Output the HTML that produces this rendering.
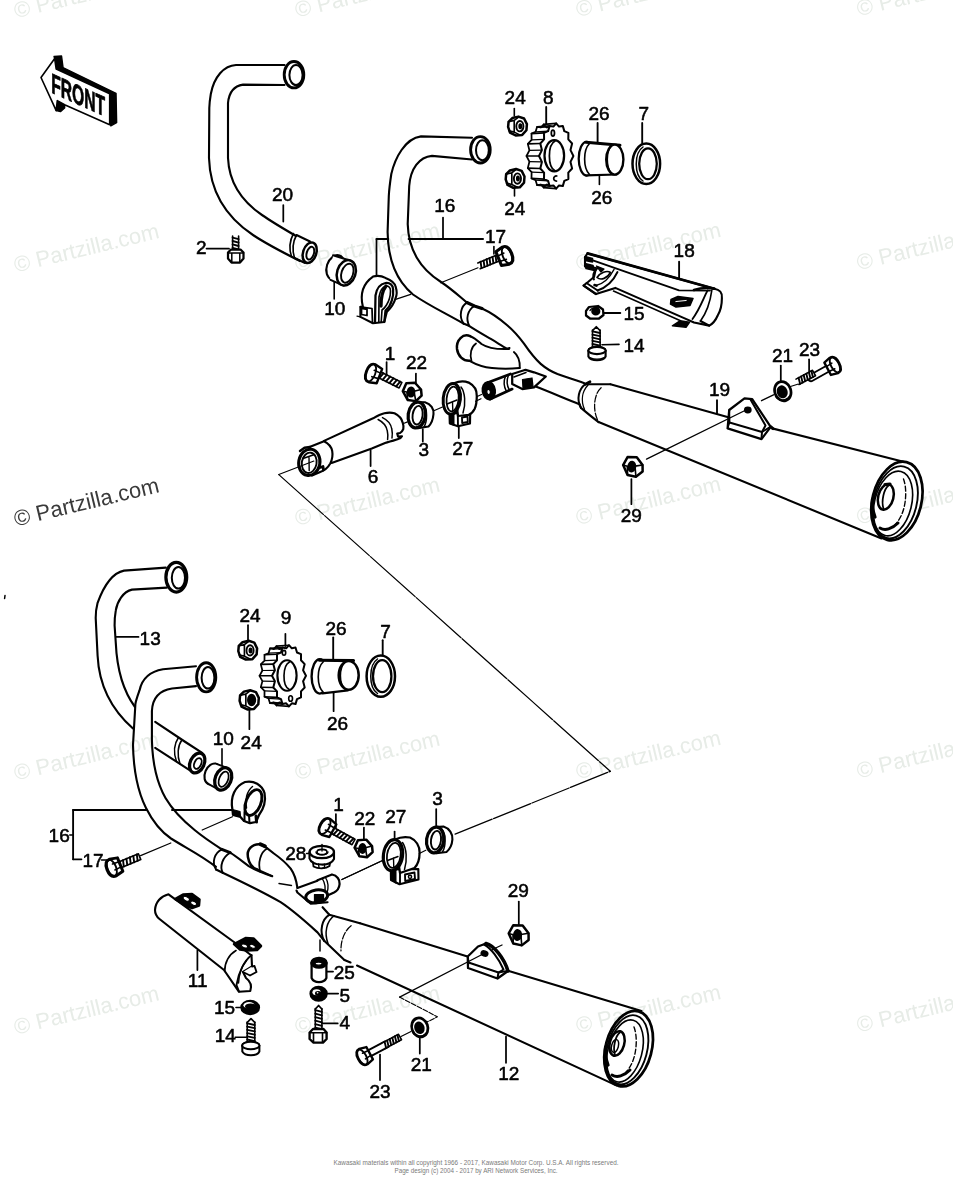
<!DOCTYPE html>
<html><head><meta charset="utf-8"><title>Exhaust diagram</title>
<style>
html,body{margin:0;padding:0;background:#fff;}
body{width:953px;height:1200px;overflow:hidden;font-family:"Liberation Sans",sans-serif;}
svg{display:block;}
.lb{font-family:"Liberation Sans",sans-serif;fill:#000;stroke:#000;stroke-width:0.55;}
.wm{font-family:"Liberation Sans",sans-serif;}
.ft{font-family:"Liberation Sans",sans-serif;fill:#777;stroke:none;}
</style></head><body>
<svg width="953" height="1200" viewBox="0 0 953 1200">
<rect x="0" y="0" width="953" height="1200" fill="#fff"/>
<g style="opacity:0.999">
<text x="16.1" y="18.3" transform="rotate(-13.5 16.1 18.3)" font-size="22" fill="#e7ece7" stroke="none" class="wm">© Partzilla.com</text>
<text x="297.0" y="17.6" transform="rotate(-13.5 297.0 17.6)" font-size="22" fill="#e7ece7" stroke="none" class="wm">© Partzilla.com</text>
<text x="577.9" y="16.9" transform="rotate(-13.5 577.9 16.9)" font-size="22" fill="#e7ece7" stroke="none" class="wm">© Partzilla.com</text>
<text x="858.8" y="16.2" transform="rotate(-13.5 858.8 16.2)" font-size="22" fill="#e7ece7" stroke="none" class="wm">© Partzilla.com</text>
<text x="16.1" y="272.4" transform="rotate(-13.5 16.1 272.4)" font-size="22" fill="#e7ece7" stroke="none" class="wm">© Partzilla.com</text>
<text x="297.0" y="271.7" transform="rotate(-13.5 297.0 271.7)" font-size="22" fill="#e7ece7" stroke="none" class="wm">© Partzilla.com</text>
<text x="577.9" y="271.0" transform="rotate(-13.5 577.9 271.0)" font-size="22" fill="#e7ece7" stroke="none" class="wm">© Partzilla.com</text>
<text x="858.8" y="270.3" transform="rotate(-13.5 858.8 270.3)" font-size="22" fill="#e7ece7" stroke="none" class="wm">© Partzilla.com</text>
<text x="16.1" y="526.5" transform="rotate(-13.5 16.1 526.5)" font-size="22" fill="#3a3a3a" stroke="none" class="wm">© Partzilla.com</text>
<text x="297.0" y="525.8" transform="rotate(-13.5 297.0 525.8)" font-size="22" fill="#e7ece7" stroke="none" class="wm">© Partzilla.com</text>
<text x="577.9" y="525.1" transform="rotate(-13.5 577.9 525.1)" font-size="22" fill="#e7ece7" stroke="none" class="wm">© Partzilla.com</text>
<text x="858.8" y="524.4" transform="rotate(-13.5 858.8 524.4)" font-size="22" fill="#e7ece7" stroke="none" class="wm">© Partzilla.com</text>
<text x="16.1" y="780.6" transform="rotate(-13.5 16.1 780.6)" font-size="22" fill="#e7ece7" stroke="none" class="wm">© Partzilla.com</text>
<text x="297.0" y="779.9" transform="rotate(-13.5 297.0 779.9)" font-size="22" fill="#e7ece7" stroke="none" class="wm">© Partzilla.com</text>
<text x="577.9" y="779.2" transform="rotate(-13.5 577.9 779.2)" font-size="22" fill="#e7ece7" stroke="none" class="wm">© Partzilla.com</text>
<text x="858.8" y="778.5" transform="rotate(-13.5 858.8 778.5)" font-size="22" fill="#e7ece7" stroke="none" class="wm">© Partzilla.com</text>
<text x="16.1" y="1034.7" transform="rotate(-13.5 16.1 1034.7)" font-size="22" fill="#e7ece7" stroke="none" class="wm">© Partzilla.com</text>
<text x="297.0" y="1034.0" transform="rotate(-13.5 297.0 1034.0)" font-size="22" fill="#e7ece7" stroke="none" class="wm">© Partzilla.com</text>
<text x="577.9" y="1033.3" transform="rotate(-13.5 577.9 1033.3)" font-size="22" fill="#e7ece7" stroke="none" class="wm">© Partzilla.com</text>
<text x="858.8" y="1032.6" transform="rotate(-13.5 858.8 1032.6)" font-size="22" fill="#e7ece7" stroke="none" class="wm">© Partzilla.com</text>
</g>
<g stroke="#000" fill="none" stroke-linecap="round" stroke-linejoin="round" style="opacity:0.999">
<g>
<path d="M54.7,58.6 L54.1,56.5 L61.5,56 L63,67.6 L116,93.3 L116.6,122.6 L110.8,125.8 L109.7,93.8 L56.2,69.1 Z" stroke-width="1.5" fill="#000" />
<path d="M57.3,100.6 L64.6,102.2 L64.6,108 L60.4,111.6 L56.2,110.6 Z" stroke-width="1.5" fill="#000" />
<path d="M41,77.5 L54.7,58.6 L56.2,69.1 L109.7,93.8 L109.7,124.7 L64.6,104.8 L57.3,100.6 L56.2,110.6 Z" stroke-width="1.62" fill="#fff" />
<text transform="matrix(0.56 0.25 0 1 51.2 92.4)" font-size="28" font-weight="bold" stroke="#000" stroke-width="0.8" fill="#000" style="font-family:'Liberation Sans',sans-serif" x="0" y="0">FRONT</text>
</g>
<path d="M284.5,65 L236,65 C224,65.5 214,77 210.8,94 C209.8,100 209.4,104 209.3,108 L209,158 C210,192 226,217 253,235 C268,245 284,253 300,261" stroke-width="2.12" fill="none" />
<path d="M284.5,85 L243,84.6 C234,86 229,92 228,103 L228,158 C229,182 240,200 262,215 C272,222 284,229 296,236" stroke-width="2.12" fill="none" />
<path d="M293.5,233.5 C290,240 289,249 291.5,256.5" stroke-width="1.62" fill="none" />
<path d="M296.5,235 C293,241.5 292.2,250.5 294.5,258" stroke-width="1.62" fill="none" />
<path d="M296.5,235 L310,241.5 M294.5,258 L305,263" stroke-width="2.0" fill="none" />
<ellipse cx="309.7" cy="252.7" rx="6.6" ry="10.6" stroke-width="2.5" fill="#fff" transform="rotate(18 309.7 252.7)"/>
<ellipse cx="310.3" cy="253.2" rx="3.6" ry="6.6" stroke-width="2.0" fill="none" transform="rotate(18 310.3 253.2)"/>
<ellipse cx="294" cy="74.7" rx="9.8" ry="13.2" stroke-width="2.88" fill="#fff"/>
<ellipse cx="296" cy="75.1" rx="6.6" ry="10" stroke-width="2.0" fill="none"/>
<path d="M232.6,236.0 L232.6,251.0 L238.6,251.0 L238.6,236.0" stroke-width="1.62" fill="#fff" />
<path d="M232.6,237.6 L238.6,239.2" stroke-width="1.88" fill="none" />
<path d="M232.6,241.0 L238.6,242.6" stroke-width="1.88" fill="none" />
<path d="M232.6,244.4 L238.6,246.0" stroke-width="1.88" fill="none" />
<path d="M232.6,247.8 L238.6,249.4" stroke-width="1.88" fill="none" />
<path d="M228,252.5 L231,249.5 L240.5,249.5 L243.5,252.5 L243.5,258.5 L240,262.5 L231.5,262.5 L228,258.5 Z" stroke-width="2.25" fill="#fff" />
<path d="M231.8,253.5 L231.8,262 M239.8,253.5 L239.8,262 M228,253 L243.5,253" stroke-width="1.5" fill="none" />
<text x="196" y="254.2" font-size="19" class="lb">2</text>
<line x1="206.5" y1="248.6" x2="229" y2="248.6" stroke-width="1.75"/>
<text x="324.2" y="314.6" font-size="19" class="lb">10</text>
<line x1="334.2" y1="282" x2="334.2" y2="299" stroke-width="1.62"/>
<text x="272" y="201.3" font-size="19" class="lb">20</text>
<line x1="283.3" y1="205" x2="283.3" y2="221.5" stroke-width="1.75"/>
<ellipse cx="335.5" cy="267.5" rx="8.8" ry="12.6" stroke-width="2.12" fill="#fff" transform="rotate(18 335.5 267.5)"/>
<path d="M333,255.3 L349,260.5 L343,285.5 L330,279.8 Z" stroke-width="0.0" fill="#fff" />
<path d="M333,255.3 L349,260.2 M330.5,279.8 L343.5,285.6" stroke-width="2.0" fill="none" />
<ellipse cx="346.3" cy="272.8" rx="9.2" ry="13" stroke-width="2.5" fill="#fff" transform="rotate(18 346.3 272.8)"/>
<ellipse cx="347.3" cy="273.2" rx="5.8" ry="9.8" stroke-width="1.88" fill="none" transform="rotate(18 347.3 273.2)"/>
<line x1="376.5" y1="239" x2="388.2" y2="239" stroke-width="2.0"/>
<line x1="408.6" y1="239" x2="483" y2="239" stroke-width="2.0"/>
<line x1="376.5" y1="239" x2="376.5" y2="276.5" stroke-width="1.75"/>
<line x1="443" y1="217.5" x2="443" y2="239" stroke-width="1.75"/>
<text x="434.2" y="212.3" font-size="19" class="lb">16</text>
<text x="485" y="243.2" font-size="19" class="lb">17</text>
<path d="M472,137.8 L421,136.4 C405,138.5 395,158 391.3,174 C389.8,184 389,192 388.8,196 L387.6,232 C388,262 398,282 413,294.5 C428,305 445,313 463.5,323.6" stroke-width="2.12" fill="none" />
<path d="M472,159.5 L432,155.9 C419,157 410.5,169 409.2,186 L407.7,224 C408.5,252 422,270 441,282 C451,288.5 459,296 467,302.6" stroke-width="2.12" fill="none" />
<ellipse cx="480.4" cy="149.8" rx="9.8" ry="13.2" stroke-width="2.88" fill="#fff"/>
<ellipse cx="482.4" cy="150.2" rx="6.4" ry="10" stroke-width="2.0" fill="none"/>
<path d="M466.9,302.6 C461,306 458.5,316 463.5,323.6" stroke-width="1.88" fill="none" />
<path d="M474.4,306 C467.5,310 465.5,319 469.4,326.1" stroke-width="1.88" fill="none" />
<path d="M466.9,302.6 L474.4,306 L482,308.5" stroke-width="3.25" fill="none" />
<path d="M482,308.5 C492,313 500,319 507.2,325.3 C514,331 519,337 524,343.7 C529,351 534,358 540.7,363.9 C546,368.5 551,371.5 557.5,374 C566,377 575,380 584.4,383.2" stroke-width="2.12" fill="none" />
<path d="M463.5,323.6 L469.4,326.1 C477,331 484,335 490.4,338.7 C497,342.5 502,346 507,348.7 L509.5,348" stroke-width="2.12" fill="none" />
<path d="M470.2,336.2 C463,333 456,340 457,349 C458,356 463,361 469.5,360.8" stroke-width="2.5" fill="none" />
<path d="M476,343.5 C471,347 469.5,354 471.5,361" stroke-width="1.75" fill="none" />
<path d="M470.2,336.2 C475,338 478,341 481.5,344 C489,349 498,349.5 509,349" stroke-width="2.0" fill="none" />
<path d="M469.5,360.8 C477,365 484,367.2 492,368 C501,369 510,369 519.5,368" stroke-width="2.12" fill="none" />
<path d="M513.9,352.1 C517.5,355 520,361 519.8,368" stroke-width="1.88" fill="none" />
<path d="M488.7,382.5 L510.5,374.2 L512.5,389 L490.5,399 Z" stroke-width="0.0" fill="#fff" />
<path d="M488.7,382.3 L510.5,374 M490.4,399.1 L512.2,389.1" stroke-width="2.75" fill="none" />
<ellipse cx="488.8" cy="390.7" rx="5.6" ry="8.2" stroke-width="3.25" fill="#000" transform="rotate(-8 488.8 390.7)"/>
<ellipse cx="488.6" cy="392" rx="1.8" ry="2.6" stroke-width="1.25" fill="#fff" transform="rotate(-8 488.6 392)"/>
<path d="M505.5,376 C503.5,381 504,387 506.5,391.5 M508.5,375 C506.5,380 507,386 509.5,390.3" stroke-width="1.5" fill="none" />
<path d="M512.2,374 L525.6,369.8 L534,372.3 L545.8,376.5 L534,387.4 L522.3,389.1 L512.2,384 Z" stroke-width="2.25" fill="#fff" />
<path d="M522.5,379.5 L532,378 L533,386.5 L523,388.5 Z" stroke-width="1.25" fill="#000" />
<path d="M514,377 L526,372.5" stroke-width="1.5" fill="none" />
<line x1="481.5" y1="394.5" x2="475" y2="397.5" stroke-width="1.25"/>
<path d="M535.7,386.5 C550,392 565,398.5 579.4,404.2" stroke-width="2.12" fill="none" />
<path d="M480.2,268.7 L499.2,260.9 L496.8,255.1 L477.8,262.9" stroke-width="1.62" fill="#fff" />
<path d="M481.5,268.1 L480.6,261.8" stroke-width="1.88" fill="none" />
<path d="M484.5,266.9 L483.6,260.6" stroke-width="1.88" fill="none" />
<path d="M487.5,265.7 L486.6,259.3" stroke-width="1.88" fill="none" />
<path d="M490.4,264.5 L489.5,258.1" stroke-width="1.88" fill="none" />
<path d="M493.4,263.2 L492.5,256.9" stroke-width="1.88" fill="none" />
<path d="M496.4,262.0 L495.5,255.7" stroke-width="1.88" fill="none" />
<g transform="translate(504.2 256.3) rotate(-22)">
<path d="M-6,-7.4 L1.7999999999999998,-9.25 Q8.100000000000001,-9.25 8.100000000000001,0 Q8.100000000000001,9.25 1.7999999999999998,9.25 L-6,7.4 Z" stroke-width="3.0" fill="#fff" />
<path d="M-6,-2.5900000000000003 L0.8999999999999999,-3.145 M-6,3.145 L0.8999999999999999,3.515" stroke-width="1.62" fill="none" />
<ellipse cx="3.0" cy="0" rx="4.32" ry="8.7" stroke-width="1.88" fill="none"/>
</g>
<line x1="493.9" y1="246.5" x2="493.9" y2="254" stroke-width="1.62"/>
<line x1="478" y1="267.8" x2="440.8" y2="282.8" stroke-width="1.12"/>
<path d="M362.9,306.8 C360.5,297 361,285 373,276.6 C378,275 382,276 385.5,277.9 C391,280 395,283 395.6,286.7 C397,291 397,295 395.6,298 C394,304 390.5,308.5 386.8,311.9 L384.3,322 L373,323.2 L360.4,316.9 L360.4,306.8 Z" stroke-width="2.12" fill="#fff" />
<path d="M375,322.5 L375.5,295.5 C376.5,289 380,284 385.5,283 C390,282.5 393,285 393.1,289.2 C393.5,293.5 393,297.5 391.8,300.5 C390.5,305 388,308.5 385.5,310.6 L384.3,322" stroke-width="2.25" fill="none" />
<path d="M378.8,322 L379,297 C380,291 382.5,287 386,286 C389,286 390.5,288 390.5,291 C390.5,296 389,301 386.5,305 C385,307.5 383.5,309 382,310 L381.2,322" stroke-width="1.62" fill="none" />
<path d="M386,286 C383,290 381,298 381,306" stroke-width="3.25" fill="none" />
<path d="M360.4,306.8 L372,308.5 L372.5,323 M361.5,308.5 L367,309.3 L367,315.5 L361.5,314.5 Z" stroke-width="1.75" fill="none" />
<line x1="357" y1="316.2" x2="360.4" y2="316.8" stroke-width="1.25"/>
<line x1="395.6" y1="299.3" x2="410.7" y2="294.3" stroke-width="1.25"/>
<text x="504.6" y="104.2" font-size="19" class="lb">24</text>
<line x1="514.3" y1="108.5" x2="514.3" y2="116" stroke-width="1.62"/>
<g transform="translate(517.5 126) scale(9.4)">
<path d="M-0.55,-0.85 L0.1,-1 L0.7,-0.8 L1,-0.2 L0.95,0.45 L0.5,0.95 L-0.2,1 L-0.8,0.7 L-1,0.1 L-0.95,-0.45 Z" stroke-width="0.266" fill="#fff"/>
<path d="M-0.95,-0.45 L-0.35,-0.6 L0.15,-0.98 M-0.9,0.5 L-0.35,0.65 L0.3,0.97 M-0.35,-0.6 L-0.35,0.65" stroke-width="0.173" fill="none"/>
<ellipse cx="0.25" cy="0.02" rx="0.38" ry="0.55" stroke-width="0.199" fill="none"/>
<ellipse cx="0.3" cy="0.02" rx="0.13" ry="0.24" stroke-width="0.16" fill="#000"/>
</g>
<g transform="translate(515.1 178.4) scale(9.4)">
<path d="M-0.55,-0.85 L0.1,-1 L0.7,-0.8 L1,-0.2 L0.95,0.45 L0.5,0.95 L-0.2,1 L-0.8,0.7 L-1,0.1 L-0.95,-0.45 Z" stroke-width="0.266" fill="#fff"/>
<path d="M-0.95,-0.45 L-0.35,-0.6 L0.15,-0.98 M-0.9,0.5 L-0.35,0.65 L0.3,0.97 M-0.35,-0.6 L-0.35,0.65" stroke-width="0.173" fill="none"/>
<ellipse cx="0.25" cy="0.02" rx="0.38" ry="0.55" stroke-width="0.199" fill="none"/>
<ellipse cx="0.3" cy="0.02" rx="0.13" ry="0.24" stroke-width="0.16" fill="#000"/>
</g>
<line x1="514.5" y1="187" x2="514.5" y2="196" stroke-width="1.62"/>
<text x="504.2" y="215" font-size="19" class="lb">24</text>
<text x="543" y="104.2" font-size="19" class="lb">8</text>
<line x1="546.2" y1="107" x2="546.2" y2="124" stroke-width="1.88"/>
<path d="M560.9,156.0 L558.0,161.7 L559.6,168.1 L555.8,172.2 L555.9,178.4 L551.8,180.2 L550.3,185.2 L546.5,184.5 L543.7,187.6 L540.9,184.5 L537.1,185.2 L535.6,180.2 L531.5,178.4 L531.6,172.2 L527.8,168.1 L529.4,161.7 L526.5,156.0 L529.4,150.3 L527.8,143.9 L531.6,139.8 L531.5,133.6 L535.6,131.8 L537.1,126.8 L540.9,127.5 L543.7,124.4 L546.5,127.5 L550.3,126.8 L551.8,131.8 L555.9,133.6 L555.8,139.8 L559.6,143.9 L558.0,150.3 Z" stroke-width="1.75" fill="#fff" />
<line x1="543.7" y1="187.6" x2="556.2" y2="188.6" stroke-width="1.62"/>
<line x1="540.9" y1="184.5" x2="553.4" y2="185.4" stroke-width="1.25"/>
<line x1="537.1" y1="185.2" x2="549.6" y2="186.1" stroke-width="1.62"/>
<line x1="535.6" y1="180.2" x2="548.1" y2="180.9" stroke-width="1.25"/>
<line x1="531.5" y1="178.4" x2="544.0" y2="179.1" stroke-width="1.62"/>
<line x1="531.6" y1="172.2" x2="544.1" y2="172.7" stroke-width="1.25"/>
<line x1="527.8" y1="168.1" x2="540.3" y2="168.5" stroke-width="1.62"/>
<line x1="529.4" y1="161.7" x2="541.9" y2="161.9" stroke-width="1.25"/>
<line x1="526.5" y1="156.0" x2="539.0" y2="156.0" stroke-width="1.62"/>
<line x1="529.4" y1="150.3" x2="541.9" y2="150.1" stroke-width="1.25"/>
<line x1="527.8" y1="143.9" x2="540.3" y2="143.5" stroke-width="1.62"/>
<line x1="531.6" y1="139.8" x2="544.1" y2="139.3" stroke-width="1.25"/>
<line x1="531.5" y1="133.6" x2="544.0" y2="132.9" stroke-width="1.62"/>
<line x1="535.6" y1="131.8" x2="548.1" y2="131.1" stroke-width="1.25"/>
<line x1="537.1" y1="126.8" x2="549.6" y2="125.9" stroke-width="1.62"/>
<line x1="540.9" y1="127.5" x2="553.4" y2="126.6" stroke-width="1.25"/>
<line x1="543.7" y1="124.4" x2="556.2" y2="123.4" stroke-width="1.62"/>
<path d="M573.4,156.0 L570.5,161.9 L572.1,168.5 L568.3,172.7 L568.4,179.1 L564.3,180.9 L562.8,186.1 L559.0,185.4 L556.2,188.6 L553.4,185.4 L549.6,186.1 L548.1,180.9 L544.0,179.1 L544.1,172.7 L540.3,168.5 L541.9,161.9 L539.0,156.0 L541.9,150.1 L540.3,143.5 L544.1,139.3 L544.0,132.9 L548.1,131.1 L549.6,125.9 L553.4,126.6 L556.2,123.4 L559.0,126.6 L562.8,125.9 L564.3,131.1 L568.4,132.9 L568.3,139.3 L572.1,143.5 L570.5,150.1 Z" stroke-width="2.0" fill="#fff" />
<ellipse cx="554.3" cy="155.8" rx="9.8" ry="15.6" stroke-width="2.25" fill="none"/>
<path d="M555,141 C547.5,145 547.5,167 555,170.8" stroke-width="1.75" fill="none" />
<ellipse cx="552.9" cy="133.1" rx="1.6" ry="3.0" stroke-width="1.75" fill="none"/>
<path d="M556.8,176 C553,175.5 552.5,181 556.5,181" stroke-width="1.75" fill="none" />
<text x="588.4" y="119.7" font-size="19" class="lb">26</text>
<line x1="597.6" y1="123" x2="597.6" y2="143.5" stroke-width="1.88"/>
<ellipse cx="586.5" cy="158.7" rx="7.8" ry="16.8" stroke-width="2.25" fill="#fff"/>
<path d="M586,142 L620,145 L617,174.5 L586,175.5 Z" stroke-width="0.0" fill="#fff" />
<path d="M586,142.2 L620,145.2" stroke-width="3.0" fill="none" />
<path d="M586,175.4 L616.5,174.5" stroke-width="2.12" fill="none" />
<path d="M589.5,143.5 C583,150 583,168 589.5,174.5" stroke-width="1.62" fill="none" />
<ellipse cx="614.8" cy="159.6" rx="8.6" ry="15" stroke-width="2.38" fill="#fff"/>
<path d="M611,146.5 C606,152 606,167 611,172.5" stroke-width="1.62" fill="none" />
<line x1="599.4" y1="175.5" x2="599.4" y2="184.5" stroke-width="1.62"/>
<text x="591.2" y="204.4" font-size="19" class="lb">26</text>
<text x="638.4" y="119.7" font-size="19" class="lb">7</text>
<line x1="642.2" y1="123" x2="642.2" y2="143.5" stroke-width="1.88"/>
<ellipse cx="646.3" cy="163.8" rx="13.8" ry="20.2" stroke-width="2.5" fill="#fff"/>
<ellipse cx="648" cy="163.8" rx="8.8" ry="15.4" stroke-width="2.25" fill="none"/>
<path d="M643,147 C634,153 634,175 643,181" stroke-width="1.5" fill="none" />
<text x="673.6" y="256.9" font-size="19" class="lb">18</text>
<line x1="679.1" y1="261.8" x2="679.1" y2="285.3" stroke-width="1.88"/>
<path d="M587.6,253.4 L714.4,288.7 C719.5,289.5 722.5,293 721.9,298 C721.9,305 720.5,311 717.7,315.5 C715.5,320.5 712.5,324 709.3,325.6 L694,322.5 L684.1,318.1 L615.3,287.9 L596,294 L583.5,285.5 L588,282 L594,277 L596,268 L585,266.5 L585,257 Z" stroke-width="2.12" fill="#fff" />
<path d="M587.6,253.4 L714.4,288.7" stroke-width="2.75" fill="none" />
<path d="M585,257.6 L679,290.4 L710,290.6" stroke-width="1.88" fill="none" />
<path d="M613.5,291 L680.5,320.8" stroke-width="1.62" fill="none" />
<path d="M707.6,290.4 C703.5,298 700,309 692.5,319" stroke-width="1.88" fill="none" />
<path d="M711.8,290.4 C710.5,300 707,312 700.5,321" stroke-width="1.62" fill="none" />
<path d="M714.4,288.7 C708,287.5 700,288 694,290" stroke-width="2.5" fill="none" />
<path d="M671,299.5 L678,296.5 L693,298.5 L690,305.5 L676,307 L670.5,304 Z" stroke-width="1.5" fill="#000" />
<path d="M676,301.5 L686,300.5" stroke-width="1.25" fill="none" stroke="#fff"/>
<path d="M672.4,325.8 L680,320.8 L689.5,322.3 L686,327.2 Z" stroke-width="1.5" fill="#000" />
<path d="M700.5,321 L709.3,325.6" stroke-width="2.0" fill="none" />
<path d="M585,256.5 L592.5,258.5 L592.5,262 L585,260.5 Z" stroke-width="1.5" fill="#000" />
<path d="M585,263.5 L593,265.5 L594.5,270.5 L586,268.5 Z" stroke-width="1.5" fill="#000" />
<path d="M596.5,266 L604,269 L601,272 Z" stroke-width="1.25" fill="#000" />
<path d="M597.5,268 C593.5,272 592.5,276.5 594,279.5" stroke-width="1.88" fill="none" />
<path d="M617.5,272 C613,281.5 605,288 597.5,290.5" stroke-width="1.88" fill="none" />
<path d="M614,269.5 C609.5,278 603,284 596,285.5" stroke-width="1.5" fill="none" />
<path d="M597,277.5 C600,272.5 607,270 610.5,272.5 C607.5,278 601,281 597,277.5 Z" stroke-width="1.62" fill="none" />
<path d="M583.5,285.5 L596,294.2 M586.5,283 L598,290.8" stroke-width="1.88" fill="none" />
<path d="M594.5,285 L596.5,285.6" stroke-width="2.5" fill="none" />
<path d="M586,311 L589,307 L598,306 L603,309.5 L603.5,315 L599,318.5 L590,318.5 L586,315.5 Z" stroke-width="2.25" fill="#fff" />
<ellipse cx="595.8" cy="311.3" rx="3.6" ry="3.2" stroke-width="2.0" fill="#000"/>
<path d="M590,310.5 C591,308 596,307 598.5,308" stroke-width="1.38" fill="none" />
<line x1="603.5" y1="313" x2="620.3" y2="313" stroke-width="1.88"/>
<text x="623.4" y="319.8" font-size="19" class="lb">15</text>
<path d="M592.5,330.0 L592.5,347.0 L600.1,347.0 L600.1,330.0" stroke-width="1.62" fill="#fff" />
<path d="M592.5,331.4 L600.1,333.0" stroke-width="1.88" fill="none" />
<path d="M592.5,334.6 L600.1,336.2" stroke-width="1.88" fill="none" />
<path d="M592.5,337.7 L600.1,339.3" stroke-width="1.88" fill="none" />
<path d="M592.5,340.8 L600.1,342.4" stroke-width="1.88" fill="none" />
<path d="M592.5,344.0 L600.1,345.6" stroke-width="1.88" fill="none" />
<path d="M592.6,330.5 L596.3,326.8 L600,330.5" stroke-width="1.75" fill="none" />
<ellipse cx="597" cy="350.5" rx="8.6" ry="3.6" stroke-width="2.12" fill="#fff"/>
<path d="M588.4,351 L588.4,356.5 C591,361.5 603,361.5 605.6,356.5 L605.6,351" stroke-width="2.12" fill="#fff" />
<ellipse cx="597" cy="350.5" rx="8.6" ry="3.6" stroke-width="2.12" fill="#fff"/>
<path d="M590.5,357.8 C594,359.5 600,359.5 603.5,357.8" stroke-width="1.38" fill="none" />
<line x1="602" y1="344.8" x2="619" y2="344.4" stroke-width="1.62"/>
<text x="623.4" y="351.7" font-size="19" class="lb">14</text>
<text x="384.8" y="359.8" font-size="19" class="lb">1</text>
<line x1="386.6" y1="362" x2="386.6" y2="375" stroke-width="1.75"/>
<path d="M377.6,377.3 L399.1,388.0 L401.9,382.4 L380.4,371.7" stroke-width="1.62" fill="#fff" />
<path d="M379.3,378.1 L383.4,373.3" stroke-width="1.88" fill="none" />
<path d="M382.6,379.8 L386.8,374.9" stroke-width="1.88" fill="none" />
<path d="M386.0,381.4 L390.2,376.6" stroke-width="1.88" fill="none" />
<path d="M389.3,383.1 L393.5,378.3" stroke-width="1.88" fill="none" />
<path d="M392.7,384.8 L396.9,379.9" stroke-width="1.88" fill="none" />
<path d="M396.1,386.4 L400.2,381.6" stroke-width="1.88" fill="none" />
<g transform="translate(373.8 374) rotate(201)">
<path d="M-6,-7.6000000000000005 L1.7999999999999998,-9.5 Q8.100000000000001,-9.5 8.100000000000001,0 Q8.100000000000001,9.5 1.7999999999999998,9.5 L-6,7.6000000000000005 Z" stroke-width="2.38" fill="#fff" />
<path d="M-6,-2.66 L0.8999999999999999,-3.2300000000000004 M-6,3.2300000000000004 L0.8999999999999999,3.61" stroke-width="1.62" fill="none" />
<ellipse cx="3.0" cy="0" rx="4.32" ry="8.93" stroke-width="1.88" fill="none"/>
</g>
<text x="406" y="369" font-size="19" class="lb">22</text>
<line x1="415.9" y1="373.5" x2="415.9" y2="384" stroke-width="1.75"/>
<g transform="translate(412.2 392) rotate(-10)">
<path d="M-9.12,-2.4 L-4.32,-9.6 L4.32,-8.64 L9.12,-0.96 L8.64,5.28 L1.92,9.6 L-5.76,7.199999999999999 Z" stroke-width="2.5" fill="#fff" />
<path d="M-5.76,7.199999999999999 L-5.28,-0.96 L-9.12,-2.4 M-5.28,-0.96 L1.92,-0.48 L9.12,-0.96 M1.92,-0.48 L1.92,9.6" stroke-width="1.62" fill="none" />
<ellipse cx="-1.152" cy="-0.192" rx="3.2640000000000002" ry="4.608" stroke-width="2.0" fill="#000" transform="rotate(12 -1.152 -0.192)"/>
</g>
<path d="M416.5,402 L425,402.2 C431,404 434,409 433.5,414 C433,420 431,424 428.5,426.5 L418,428.2 Z" stroke-width="2.12" fill="#fff" />
<ellipse cx="416.8" cy="415" rx="8.6" ry="13" stroke-width="3.25" fill="#fff" transform="rotate(8 416.8 415)"/>
<ellipse cx="417.6" cy="415.2" rx="5" ry="9.4" stroke-width="1.88" fill="none" transform="rotate(8 417.6 415.2)"/>
<path d="M423.5,404.5 C427.5,409 427.5,421 424,426.8" stroke-width="1.5" fill="none" />
<line x1="422.8" y1="429" x2="422.8" y2="441.5" stroke-width="1.75"/>
<text x="418.6" y="456.2" font-size="19" class="lb">3</text>
<line x1="403.5" y1="423.5" x2="407.5" y2="421.8" stroke-width="1.25"/>
<line x1="434.4" y1="410.5" x2="442.5" y2="407" stroke-width="1.25"/>
<path d="M449.5,413.5 L449.8,423.5 L458,426.2 L470,423.5 L470.2,413 Z" stroke-width="2.12" fill="#fff" />
<path d="M454,383.3 C459,381 465,381 468.7,382.6 C474,385.5 477,390 476.8,396 C476.8,402 476,406 474.6,409 C473,412 471,414 468.7,414.9 L458,416 Z" stroke-width="2.25" fill="#fff" />
<ellipse cx="451.8" cy="398.8" rx="8.6" ry="15.4" stroke-width="3.0" fill="#fff" transform="rotate(6 451.8 398.8)"/>
<ellipse cx="452.6" cy="399" rx="6" ry="12.4" stroke-width="1.75" fill="none" transform="rotate(6 452.6 399)"/>
<path d="M447,404 L457,400 M452.5,401.8 L452.8,411" stroke-width="1.38" fill="none" />
<path d="M461,387 C465,392 466,404 463,413" stroke-width="1.5" fill="none" />
<path d="M453.5,414 L453.5,424.8 M457.8,415 L458,426.2 M462,417.5 L467.5,416.5 L467.8,422 L462.2,423 Z" stroke-width="1.88" fill="none" />
<path d="M449.8,414 L449.8,423.5 L453.5,424.8 L453.5,414.5 Z" stroke-width="1.25" fill="#000" />
<line x1="458.8" y1="426.5" x2="458.8" y2="438" stroke-width="1.75"/>
<text x="452.2" y="455.4" font-size="19" class="lb">27</text>
<line x1="475.6" y1="401.3" x2="481" y2="398.8" stroke-width="1.25"/>
<path d="M324,440.9 L373.1,418.3 C377,416 381,414 384.4,413.2 C388,412.4 391.5,412.4 394.5,413.2 C399,415.5 402,419 402.7,422.7 C403.5,425 403.6,427 403.3,429 C402.5,431 401.5,432.3 400,433 L397.2,433.6 L398,436.6 L402,436.2 C401,438 399.8,438.8 398.3,439 C394,440.5 390,441.6 385.7,442.8 L371.8,448.5 L331.6,463 Z" stroke-width="2.12" fill="#fff" />
<path d="M378.1,419.5 C383,422 386.5,426 387.3,431 C388,434 388,437 387.6,439.5" stroke-width="1.5" fill="none" />
<path d="M382.5,417.6 C387.5,420 391,424 391.8,429 C392.4,432 392.5,435 392,438" stroke-width="1.5" fill="none" />
<path d="M308.9,447.2 L324,441.2 C328.5,443.5 331.5,447 332.2,451 C333,455.5 332,460 330.3,463.5 C328,467.5 324.5,470.5 320.2,472 L312,475.6 Z" stroke-width="2.12" fill="#fff" />
<ellipse cx="309.3" cy="462.3" rx="10.6" ry="13.2" stroke-width="3.0" fill="#fff" transform="rotate(10 309.3 462.3)"/>
<ellipse cx="309.2" cy="462.8" rx="7.4" ry="10.2" stroke-width="1.88" fill="none" transform="rotate(10 309.2 462.8)"/>
<path d="M303,458.5 L314.5,454.5 M309,456.5 L309.2,470.5" stroke-width="1.38" fill="none" />
<path d="M318.5,468 L323,466.5 L323.5,470" stroke-width="2.75" fill="none" />
<path d="M300,451 L304.5,447.8 L310,447" stroke-width="2.5" fill="none" />
<line x1="370.6" y1="450.4" x2="370.6" y2="466" stroke-width="1.75"/>
<text x="367.8" y="483.4" font-size="19" class="lb">6</text>
<line x1="313.9" y1="461.1" x2="278.8" y2="474.6" stroke-width="1.12"/>
<path d="M278.8,474.6 L610.3,771.3" stroke-width="1.25" fill="none" stroke-dasharray="60 1.5"/>
<path d="M585.2,384.3 L610.4,384.3" stroke-width="2.12" fill="none" />
<path d="M585.2,384.3 C579,389 576,399 581,407.9" stroke-width="2.0" fill="none" />
<path d="M588,385 C582.5,391 580.5,400 584.5,409.5" stroke-width="1.38" fill="none" />
<path d="M601.1,387.7 C594,394 592,410 598.6,422.1" stroke-width="1.25" fill="none" stroke-dasharray="7 2"/>
<path d="M579.4,404.2 L581,407.9 C587,413 593,418 598.6,422.1" stroke-width="2.12" fill="none" />
<path d="M585.2,384.3 L590,381.8" stroke-width="2.75" fill="none" />
<path d="M610.4,384.3 L729.2,417.4" stroke-width="2.12" fill="none" />
<path d="M772.2,428.4 L906.4,462.5" stroke-width="2.12" fill="none" />
<path d="M598.6,422.1 L881.5,538.4" stroke-width="2.12" fill="none" />
<ellipse cx="896.9" cy="501" rx="24.5" ry="40" stroke-width="2.75" fill="#fff" transform="rotate(14 896.9 501)"/>
<ellipse cx="895.2" cy="502.3" rx="21.5" ry="36.8" stroke-width="1.88" fill="none" transform="rotate(14 895.2 502.3)"/>
<ellipse cx="893" cy="503.5" rx="18.5" ry="33" stroke-width="1.62" fill="none" transform="rotate(14 893 503.5)"/>
<path d="M903.5,479 C907,488 906.5,505 901,516 C899,520 897,523 895,525" stroke-width="1.38" fill="none" stroke-dasharray="5 2.5"/>
<path d="M880,528 C885,531 892,529 898,523" stroke-width="3.0" fill="none" />
<path d="M872.5,499 C872,506 873,512 875,517" stroke-width="3.25" fill="none" />
<ellipse cx="885.8" cy="497" rx="7.6" ry="13" stroke-width="2.5" fill="#fff" transform="rotate(14 885.8 497)"/>
<path d="M888.5,485.5 C884,489 881,501 883.5,508.5" stroke-width="1.75" fill="none" />
<path d="M885,484.5 L890,484.2" stroke-width="3.25" fill="none" />
<text x="709" y="396.2" font-size="19" class="lb">19</text>
<line x1="717" y1="400.3" x2="717" y2="413.8" stroke-width="1.88"/>
<path d="M729.2,410 L744.5,398.3 L752.2,399.2 L770.7,426.8 L761.5,439.1 L727.6,428.4 Z" stroke-width="2.25" fill="#fff" />
<path d="M729.2,410.5 L729.5,422.5 L762,432 L770,427" stroke-width="1.88" fill="none" />
<path d="M750.5,399.5 L765.5,425.5 L762,432 L761.5,438.5" stroke-width="2.0" fill="none" />
<path d="M729.5,422.5 L727.6,428.2" stroke-width="1.62" fill="none" />
<ellipse cx="747.8" cy="410" rx="3.0" ry="2.6" stroke-width="1.75" fill="#000"/>
<path d="M770.7,426.8 L773,428.6" stroke-width="3.0" fill="none" />
<line x1="646.5" y1="459.1" x2="746" y2="410" stroke-width="1.38"/>
<line x1="761.5" y1="400.7" x2="773.5" y2="394.8" stroke-width="1.38"/>
<line x1="790.5" y1="386.5" x2="800" y2="383.5" stroke-width="1.25"/>
<g transform="translate(633 466.8) rotate(-5)">
<path d="M-9.69,-2.55 L-4.59,-10.2 L4.59,-9.18 L9.69,-1.02 L9.18,5.61 L2.04,10.2 L-6.119999999999999,7.6499999999999995 Z" stroke-width="2.5" fill="#fff" />
<path d="M-6.119999999999999,7.6499999999999995 L-5.61,-1.02 L-9.69,-2.55 M-5.61,-1.02 L2.04,-0.51 L9.69,-1.02 M2.04,-0.51 L2.04,10.2" stroke-width="1.62" fill="none" />
<ellipse cx="-1.224" cy="-0.204" rx="3.468" ry="4.896" stroke-width="2.0" fill="#000" transform="rotate(12 -1.224 -0.204)"/>
</g>
<line x1="631.4" y1="479" x2="631.4" y2="504.2" stroke-width="1.75"/>
<text x="620.7" y="521.8" font-size="19" class="lb">29</text>
<text x="772" y="362.3" font-size="19" class="lb">21</text>
<line x1="780.8" y1="365.5" x2="780.8" y2="382.3" stroke-width="1.75"/>
<ellipse cx="782.8" cy="391.2" rx="8.0" ry="9.8" stroke-width="2.75" fill="#fff" transform="rotate(-20 782.8 391.2)"/>
<ellipse cx="782.2" cy="391.8" rx="4.4" ry="5.6" stroke-width="1.88" fill="#000" transform="rotate(-20 782.2 391.8)"/>
<path d="M775.5,396 C778,401 785,402 789.5,396.5" stroke-width="1.5" fill="none" />
<text x="799" y="356" font-size="19" class="lb">23</text>
<line x1="809.1" y1="359.3" x2="809.1" y2="370.5" stroke-width="1.75"/>
<path d="M811,378 L828,368.5" stroke-width="8.25" fill="none" stroke="#000"/>
<path d="M811,378 L828,368.5" stroke-width="4.5" fill="none" stroke="#fff"/>
<path d="M799.0,384.5 L815.5,375.7 L812.5,370.3 L796.0,379.1" stroke-width="1.62" fill="#fff" />
<path d="M800.1,383.9 L798.6,377.7" stroke-width="1.88" fill="none" />
<path d="M802.6,382.6 L801.1,376.4" stroke-width="1.88" fill="none" />
<path d="M805.2,381.2 L803.7,375.0" stroke-width="1.88" fill="none" />
<path d="M807.8,379.8 L806.3,373.6" stroke-width="1.88" fill="none" />
<path d="M810.4,378.4 L808.9,372.2" stroke-width="1.88" fill="none" />
<path d="M812.9,377.1 L811.4,370.9" stroke-width="1.88" fill="none" />
<g transform="translate(832.5 366.2) rotate(-28)">
<path d="M-5.5,-7.0 L1.65,-8.75 Q7.425000000000001,-8.75 7.425000000000001,0 Q7.425000000000001,8.75 1.65,8.75 L-5.5,7.0 Z" stroke-width="2.38" fill="#fff" />
<path d="M-5.5,-2.45 L0.825,-2.975 M-5.5,2.975 L0.825,3.325" stroke-width="1.62" fill="none" />
<ellipse cx="2.75" cy="0" rx="3.96" ry="8.22" stroke-width="1.88" fill="none"/>
</g>
<path d="M165.8,567.6 L124,570.6 C112,573 103,588 97.6,602.8 C96,609 95.6,614 95.7,618 L97.6,655.7 C99,685 112,710 133,728.5" stroke-width="2.12" fill="none" />
<path d="M166.8,587.6 L132,589.6 C123,591.5 117,602 115.8,610.4 C114.8,616 114.5,621 114.6,625.5 L115.8,643.1 C117,670 124,692 135,707" stroke-width="2.12" fill="none" />
<ellipse cx="176.3" cy="577.2" rx="10.4" ry="14.8" stroke-width="3.25" fill="#fff"/>
<ellipse cx="178.4" cy="577.8" rx="6.6" ry="10.8" stroke-width="2.0" fill="none"/>
<line x1="116.5" y1="636.9" x2="138.5" y2="636.9" stroke-width="1.75"/>
<text x="139.6" y="645.3" font-size="19" class="lb">13</text>
<path d="M155.2,721.8 L185.4,742 L202.2,752.9 M155.2,747.9 L188.8,769.7" stroke-width="2.12" fill="none" />
<path d="M178.5,737.5 C174,744 173.5,753 176.5,761.5 M182,739.8 C177.5,746 177,755.5 180,763.8" stroke-width="1.5" fill="none" />
<ellipse cx="197.2" cy="763" rx="7" ry="10.4" stroke-width="3.25" fill="#fff" transform="rotate(25 197.2 763)"/>
<ellipse cx="197.8" cy="763.5" rx="3.4" ry="5.6" stroke-width="1.88" fill="none" transform="rotate(25 197.8 763.5)"/>
<line x1="73.1" y1="810" x2="147" y2="810" stroke-width="2.0"/>
<line x1="172" y1="810" x2="233.5" y2="810" stroke-width="2.0"/>
<line x1="73.1" y1="810" x2="73.1" y2="859.3" stroke-width="1.88"/>
<line x1="73.1" y1="859.3" x2="81.5" y2="859.3" stroke-width="1.75"/>
<line x1="69.8" y1="835" x2="73.1" y2="835" stroke-width="1.62"/>
<text x="48.6" y="841.8" font-size="19" class="lb">16</text>
<text x="82.5" y="866.8" font-size="19" class="lb">17</text>
<line x1="101.5" y1="860" x2="107" y2="860" stroke-width="1.62"/>
<path d="M196,666.2 L163,669.3 C150,671.5 142,679 139.5,690.4 C137.5,696 136,700 135.4,704 L133,745 C133.5,770 137,790 146,808 C153,822 160,831 171,838.5 C186,848 201,855 216,866.9" stroke-width="2.12" fill="none" />
<path d="M196,686.1 L172,688.5 C159,690.5 152.5,699 151.9,711 L151.9,740 C152.5,765 157,783 165.5,798 C172,809 181,819 194.6,830 C203,837 212,843 221.8,849.3" stroke-width="2.12" fill="none" />
<ellipse cx="206.2" cy="677.3" rx="9.6" ry="14.6" stroke-width="2.88" fill="#fff"/>
<ellipse cx="208" cy="677.8" rx="6.4" ry="10.8" stroke-width="2.0" fill="none"/>
<path d="M221.8,849.3 C214.5,853 211.5,862 216,869.5" stroke-width="1.88" fill="none" />
<path d="M230.2,852.7 C222.5,857 219.5,866 222.7,872.8" stroke-width="1.88" fill="none" />
<path d="M221.8,849.3 L230.2,852.7" stroke-width="3.0" fill="none" />
<path d="M216,869.5 L222.7,872.8" stroke-width="2.12" fill="none" />
<path d="M230.2,852.7 C237,857 243,862 248.7,866.1 C256,870.5 264,873.5 272.2,876.2" stroke-width="2.12" fill="none" />
<path d="M222.7,872.8 C240,881 262,891.5 280.6,902.2 C294,911 306,922 317.5,932.4 L324.2,940.8" stroke-width="2.12" fill="none" />
<path d="M279,883.5 L291.5,885.5" stroke-width="1.38" fill="none" />
<path d="M260.4,844.3 C252,843.5 246.5,850 247.9,857 C249,863.5 252.5,868 257.1,869.5" stroke-width="2.5" fill="none" />
<path d="M267.2,848.5 C260.5,852 257.5,863 260.4,872" stroke-width="1.75" fill="none" />
<path d="M260.4,844.3 L265,846.2" stroke-width="3.75" fill="none" />
<path d="M260.4,844.3 C266,847 270,850 273.9,853.5 C281,858.5 286.5,863.5 290.7,868.6 C294.5,874 296.5,881 297.4,887.9" stroke-width="2.12" fill="none" />
<path d="M257.1,869.5 L272.2,876.2" stroke-width="2.0" fill="none" />
<path d="M297.4,887.9 L332.6,875.3" stroke-width="2.12" fill="none" />
<path d="M317.5,880.2 L332,874.5 C337,875.5 340,879.5 339.6,884 C339.3,888 337,891 334,892.5 L327.5,895.5" stroke-width="2.25" fill="#fff" />
<path d="M325.5,877.5 C328,881.5 328.5,888 327,893 M322.5,879 C325,883 325.5,889.5 324.5,894" stroke-width="1.38" fill="none" />
<path d="M296.5,890.5 L297.4,892.5 L310.8,903.8 L327.6,902.2" stroke-width="2.12" fill="none" />
<ellipse cx="316.7" cy="896.3" rx="11" ry="6.4" stroke-width="3.0" fill="#fff" transform="rotate(-8 316.7 896.3)"/>
<path d="M314.5,894.5 L323.5,894.5 L323.5,901.5 L314.5,901.5 Z" stroke-width="1.25" fill="#000" />
<path d="M322.6,907.2 L329.3,914.8" stroke-width="2.12" fill="none" />
<line x1="341.9" y1="879.5" x2="382" y2="860.8" stroke-width="1.25"/>
<text x="285.3" y="860.2" font-size="19" class="lb">28</text>
<line x1="306.5" y1="853.5" x2="309.5" y2="853.5" stroke-width="1.5"/>
<path d="M309.5,852 L309.5,858.5 C312,866 330,867 334,859 L334,852" stroke-width="2.12" fill="#fff" />
<path d="M313,862.5 L313.5,866.5 C318,869 326,869 329.5,866 L330,862.8" stroke-width="1.88" fill="none" />
<ellipse cx="321.8" cy="852" rx="12.2" ry="6.2" stroke-width="2.25" fill="#fff"/>
<ellipse cx="322" cy="852" rx="5" ry="2.6" stroke-width="1.62" fill="none"/>
<path d="M316,852 C316,855.5 328,855.8 328,852" stroke-width="1.38" fill="none" />
<line x1="322" y1="844.5" x2="322" y2="851" stroke-width="1.38"/>
<path d="M318.5,864 L319,867.5 M324.5,864.2 L324.5,868" stroke-width="1.38" fill="none" />
<path d="M232.4,809.5 C230,797 235,786 245,782 C254,780 262,785 264.5,793 C266,801 263.5,809 259,815 L256,822 L250,823.2 L244,821 L240.5,817 L233,815 Z" stroke-width="2.25" fill="#fff" />
<ellipse cx="253.4" cy="802.6" rx="7.4" ry="13.6" stroke-width="2.88" fill="#fff" transform="rotate(22 253.4 802.6)"/>
<path d="M246.5,808 C244.5,800 247,791 252.5,786.5" stroke-width="1.5" fill="none" />
<path d="M232.4,809.5 L240,811.5 L240.5,817 L233,815 Z" stroke-width="1.25" fill="#000" />
<path d="M244.5,812 L244.5,821 M249,815 L249.5,823" stroke-width="2.0" fill="none" />
<path d="M256,816 L256.5,822" stroke-width="3.0" fill="none" />
<line x1="202.2" y1="830" x2="232.4" y2="816.7" stroke-width="1.25"/>
<text x="212.8" y="744.5" font-size="19" class="lb">10</text>
<line x1="222" y1="748.7" x2="222" y2="765.5" stroke-width="1.62"/>
<ellipse cx="212.3" cy="773.9" rx="7.3" ry="10.8" stroke-width="2.12" fill="#fff" transform="rotate(22 212.3 773.9)"/>
<path d="M215.5,763.5 L226.5,767.5 L219.5,790 L208.5,784 Z" stroke-width="0.0" fill="#fff" />
<path d="M215.8,763.6 L226.5,767.6 M208.3,783.8 L219.3,790" stroke-width="2.0" fill="none" />
<ellipse cx="223.2" cy="778.9" rx="8" ry="11.6" stroke-width="3.25" fill="#fff" transform="rotate(22 223.2 778.9)"/>
<ellipse cx="223.6" cy="779.2" rx="4.4" ry="8" stroke-width="1.75" fill="none" transform="rotate(22 223.6 779.2)"/>
<path d="M122.2,867.2 L140.8,859.6 L138.4,853.8 L119.8,861.4" stroke-width="1.62" fill="#fff" />
<path d="M123.8,866.5 L123.0,860.1" stroke-width="1.88" fill="none" />
<path d="M127.3,865.1 L126.4,858.7" stroke-width="1.88" fill="none" />
<path d="M130.7,863.7 L129.9,857.3" stroke-width="1.88" fill="none" />
<path d="M134.2,862.3 L133.3,855.9" stroke-width="1.88" fill="none" />
<path d="M137.6,860.9 L136.8,854.5" stroke-width="1.88" fill="none" />
<g transform="translate(114.6 866.8) rotate(158)">
<path d="M-6,-7.2 L1.7999999999999998,-9.0 Q8.100000000000001,-9.0 8.100000000000001,0 Q8.100000000000001,9.0 1.7999999999999998,9.0 L-6,7.2 Z" stroke-width="3.0" fill="#fff" />
<path d="M-6,-2.5200000000000005 L0.8999999999999999,-3.06 M-6,3.06 L0.8999999999999999,3.42" stroke-width="1.62" fill="none" />
<ellipse cx="3.0" cy="0" rx="4.32" ry="8.46" stroke-width="1.88" fill="none"/>
</g>
<line x1="140.6" y1="855.6" x2="170.8" y2="843" stroke-width="1.25"/>
<text x="239.4" y="621.5" font-size="19" class="lb">24</text>
<line x1="248" y1="625.2" x2="248" y2="640.5" stroke-width="1.75"/>
<g transform="translate(247.7 650.2) scale(9.4)">
<path d="M-0.55,-0.85 L0.1,-1 L0.7,-0.8 L1,-0.2 L0.95,0.45 L0.5,0.95 L-0.2,1 L-0.8,0.7 L-1,0.1 L-0.95,-0.45 Z" stroke-width="0.266" fill="#fff"/>
<path d="M-0.95,-0.45 L-0.35,-0.6 L0.15,-0.98 M-0.9,0.5 L-0.35,0.65 L0.3,0.97 M-0.35,-0.6 L-0.35,0.65" stroke-width="0.173" fill="none"/>
<ellipse cx="0.25" cy="0.02" rx="0.38" ry="0.55" stroke-width="0.199" fill="none"/>
<ellipse cx="0.3" cy="0.02" rx="0.13" ry="0.24" stroke-width="0.16" fill="#000"/>
</g>
<g transform="translate(249.2 699.8) scale(9.6)">
<path d="M-0.55,-0.85 L0.1,-1 L0.7,-0.8 L1,-0.2 L0.95,0.45 L0.5,0.95 L-0.2,1 L-0.8,0.7 L-1,0.1 L-0.95,-0.45 Z" stroke-width="0.26" fill="#fff"/>
<path d="M-0.95,-0.45 L-0.35,-0.6 L0.15,-0.98 M-0.9,0.5 L-0.35,0.65 L0.3,0.97 M-0.35,-0.6 L-0.35,0.65" stroke-width="0.169" fill="none"/>
<ellipse cx="0.25" cy="0.02" rx="0.38" ry="0.55" stroke-width="0.195" fill="#000"/>
<ellipse cx="0.3" cy="0.02" rx="0.13" ry="0.24" stroke-width="0.156" fill="#000"/>
</g>
<line x1="249.4" y1="710.2" x2="249.4" y2="729.2" stroke-width="1.75"/>
<text x="240.6" y="749" font-size="19" class="lb">24</text>
<text x="280.8" y="624.3" font-size="19" class="lb">9</text>
<line x1="285.4" y1="633.8" x2="285.4" y2="646" stroke-width="1.75"/>
<path d="M293.5,675.8 L290.6,681.1 L292.2,687.2 L288.5,690.9 L288.5,696.8 L284.5,698.4 L283.0,703.2 L279.3,702.4 L276.5,705.5 L273.7,702.4 L270.0,703.2 L268.5,698.4 L264.5,696.8 L264.5,690.9 L260.8,687.2 L262.4,681.1 L259.5,675.8 L262.4,670.5 L260.8,664.4 L264.5,660.7 L264.5,654.8 L268.5,653.2 L270.0,648.4 L273.7,649.2 L276.5,646.1 L279.3,649.2 L283.0,648.4 L284.5,653.2 L288.5,654.8 L288.5,660.7 L292.2,664.4 L290.6,670.5 Z" stroke-width="1.75" fill="#fff" />
<line x1="276.5" y1="705.5" x2="289.0" y2="706.4" stroke-width="1.62"/>
<line x1="273.7" y1="702.4" x2="286.2" y2="703.3" stroke-width="1.25"/>
<line x1="270.0" y1="703.2" x2="282.5" y2="704.1" stroke-width="1.62"/>
<line x1="268.5" y1="698.4" x2="281.0" y2="699.1" stroke-width="1.25"/>
<line x1="264.5" y1="696.8" x2="277.0" y2="697.4" stroke-width="1.62"/>
<line x1="264.5" y1="690.9" x2="277.0" y2="691.4" stroke-width="1.25"/>
<line x1="260.8" y1="687.2" x2="273.3" y2="687.5" stroke-width="1.62"/>
<line x1="262.4" y1="681.1" x2="274.9" y2="681.3" stroke-width="1.25"/>
<line x1="259.5" y1="675.8" x2="272.0" y2="675.8" stroke-width="1.62"/>
<line x1="262.4" y1="670.5" x2="274.9" y2="670.3" stroke-width="1.25"/>
<line x1="260.8" y1="664.4" x2="273.3" y2="664.1" stroke-width="1.62"/>
<line x1="264.5" y1="660.7" x2="277.0" y2="660.2" stroke-width="1.25"/>
<line x1="264.5" y1="654.8" x2="277.0" y2="654.2" stroke-width="1.62"/>
<line x1="268.5" y1="653.2" x2="281.0" y2="652.5" stroke-width="1.25"/>
<line x1="270.0" y1="648.4" x2="282.5" y2="647.5" stroke-width="1.62"/>
<line x1="273.7" y1="649.2" x2="286.2" y2="648.3" stroke-width="1.25"/>
<line x1="276.5" y1="646.1" x2="289.0" y2="645.2" stroke-width="1.62"/>
<path d="M306.0,675.8 L303.1,681.3 L304.7,687.5 L301.0,691.4 L301.0,697.4 L297.0,699.1 L295.5,704.1 L291.8,703.3 L289.0,706.4 L286.2,703.3 L282.5,704.1 L281.0,699.1 L277.0,697.4 L277.0,691.4 L273.3,687.5 L274.9,681.3 L272.0,675.8 L274.9,670.3 L273.3,664.1 L277.0,660.2 L277.0,654.2 L281.0,652.5 L282.5,647.5 L286.2,648.3 L289.0,645.2 L291.8,648.3 L295.5,647.5 L297.0,652.5 L301.0,654.2 L301.0,660.2 L304.7,664.1 L303.1,670.3 Z" stroke-width="2.0" fill="#fff" />
<ellipse cx="287" cy="675.5" rx="9.6" ry="15.2" stroke-width="2.12" fill="none"/>
<path d="M289.5,662 C282.5,665.5 282,685.5 289,689.3" stroke-width="1.62" fill="none" />
<ellipse cx="284" cy="652.8" rx="1.7" ry="2.4" stroke-width="1.62" fill="none"/>
<ellipse cx="290.6" cy="698.5" rx="1.9" ry="2.8" stroke-width="1.62" fill="none"/>
<text x="325.5" y="634.7" font-size="19" class="lb">26</text>
<line x1="333.2" y1="637.5" x2="333.2" y2="660.2" stroke-width="1.88"/>
<ellipse cx="319.8" cy="676.4" rx="8.2" ry="17.2" stroke-width="2.38" fill="#fff"/>
<path d="M319.5,659.5 L355,660.5 L348,691 L323,694 Z" stroke-width="0.0" fill="#fff" />
<path d="M319.5,660.2 L353.5,660.6" stroke-width="3.12" fill="none" />
<path d="M322.5,693.3 L348,690.4" stroke-width="2.25" fill="none" />
<path d="M323.5,661.5 C316.5,668 316.5,686 323.5,692.5" stroke-width="1.62" fill="none" />
<ellipse cx="348.7" cy="675.3" rx="10" ry="14.4" stroke-width="2.5" fill="#fff"/>
<path d="M344.5,663 C339,668.5 339,683 344.5,688" stroke-width="1.62" fill="none" />
<line x1="333.6" y1="693.2" x2="333.6" y2="711.2" stroke-width="1.75"/>
<text x="327" y="730" font-size="19" class="lb">26</text>
<text x="380.2" y="637.5" font-size="19" class="lb">7</text>
<line x1="382.7" y1="640.3" x2="382.7" y2="655.5" stroke-width="1.88"/>
<ellipse cx="380.8" cy="676.2" rx="14.2" ry="20.6" stroke-width="2.5" fill="#fff"/>
<ellipse cx="382.2" cy="676.2" rx="9.2" ry="16" stroke-width="2.25" fill="none"/>
<path d="M377.5,659 C368.5,665 368.5,687.5 377.5,693.5" stroke-width="1.5" fill="none" />
<text x="333.2" y="810.8" font-size="19" class="lb">1</text>
<line x1="335.9" y1="814" x2="335.9" y2="828" stroke-width="1.75"/>
<path d="M332.0,833.7 L352.0,844.7 L355.0,839.3 L335.0,828.3" stroke-width="1.62" fill="#fff" />
<path d="M333.5,834.5 L337.9,829.9" stroke-width="1.88" fill="none" />
<path d="M336.6,836.3 L341.0,831.6" stroke-width="1.88" fill="none" />
<path d="M339.7,838.0 L344.1,833.3" stroke-width="1.88" fill="none" />
<path d="M342.9,839.7 L347.3,835.0" stroke-width="1.88" fill="none" />
<path d="M346.0,841.4 L350.4,836.7" stroke-width="1.88" fill="none" />
<path d="M349.1,843.1 L353.5,838.5" stroke-width="1.88" fill="none" />
<g transform="translate(327.6 827.8) rotate(209)">
<path d="M-6,-7.2 L1.7999999999999998,-9.0 Q8.100000000000001,-9.0 8.100000000000001,0 Q8.100000000000001,9.0 1.7999999999999998,9.0 L-6,7.2 Z" stroke-width="2.38" fill="#fff" />
<path d="M-6,-2.5200000000000005 L0.8999999999999999,-3.06 M-6,3.06 L0.8999999999999999,3.42" stroke-width="1.62" fill="none" />
<ellipse cx="3.0" cy="0" rx="4.32" ry="8.46" stroke-width="1.88" fill="none"/>
</g>
<text x="354.2" y="824.8" font-size="19" class="lb">22</text>
<line x1="363.9" y1="827.5" x2="363.9" y2="840.5" stroke-width="1.75"/>
<g transform="translate(363.6 848.5) rotate(-10)">
<path d="M-8.739999999999998,-2.3 L-4.14,-9.2 L4.14,-8.28 L8.739999999999998,-0.9199999999999999 L8.28,5.06 L1.8399999999999999,9.2 L-5.52,6.8999999999999995 Z" stroke-width="2.5" fill="#fff" />
<path d="M-5.52,6.8999999999999995 L-5.06,-0.9199999999999999 L-8.739999999999998,-2.3 M-5.06,-0.9199999999999999 L1.8399999999999999,-0.45999999999999996 L8.739999999999998,-0.9199999999999999 M1.8399999999999999,-0.45999999999999996 L1.8399999999999999,9.2" stroke-width="1.62" fill="none" />
<ellipse cx="-1.1039999999999999" cy="-0.184" rx="3.128" ry="4.4159999999999995" stroke-width="2.0" fill="#000" transform="rotate(12 -1.1039999999999999 -0.184)"/>
</g>
<text x="385.2" y="823.4" font-size="19" class="lb">27</text>
<line x1="394.6" y1="831.6" x2="394.6" y2="840.5" stroke-width="1.75"/>
<path d="M390.8,869.5 L391,880 L399.5,884.3 L418.5,879.5 L418.3,869 Z" stroke-width="2.12" fill="#fff" />
<path d="M395,839.5 C400,837 406,836.7 410,837.5 C416,840 419.8,846 419.6,852.5 C419.6,859 418,864.5 414.5,868 L400,873 Z" stroke-width="2.25" fill="#fff" />
<ellipse cx="393" cy="855.2" rx="9.6" ry="15.6" stroke-width="3.12" fill="#fff" transform="rotate(8 393 855.2)"/>
<ellipse cx="393.8" cy="855.4" rx="6.8" ry="12.6" stroke-width="1.75" fill="none" transform="rotate(8 393.8 855.4)"/>
<path d="M387.5,860.5 L398,856.5 M393.5,858 L393.8,868" stroke-width="1.38" fill="none" />
<path d="M402.5,842.5 C406.5,848 407.5,860 404.5,869.5" stroke-width="1.5" fill="none" />
<path d="M395.5,871 L395.5,882.5 M400,872.5 L400,884 M405,874.5 L414.5,872.5 L415,879 L405.2,881 Z" stroke-width="1.88" fill="none" />
<path d="M391,870.5 L391,880 L395.5,882.5 L395.5,871.5 Z" stroke-width="1.25" fill="#000" />
<ellipse cx="410" cy="876.8" rx="1.6" ry="1.6" stroke-width="1.5" fill="none"/>
<line x1="382" y1="860.8" x2="341.9" y2="879.5" stroke-width="1.25"/>
<line x1="419.3" y1="853.5" x2="425.8" y2="850.3" stroke-width="1.25"/>
<text x="432.2" y="804.7" font-size="19" class="lb">3</text>
<line x1="436.2" y1="809" x2="436.2" y2="826.5" stroke-width="1.75"/>
<path d="M435,827 L443.5,826.6 C449.5,828.5 452.8,834 452.4,839.5 C452,845 449.5,849.5 446.5,852 L436.5,853.2 Z" stroke-width="2.12" fill="#fff" />
<ellipse cx="435.2" cy="840" rx="8.6" ry="13" stroke-width="3.25" fill="#fff" transform="rotate(8 435.2 840)"/>
<ellipse cx="436" cy="840.2" rx="5" ry="9.4" stroke-width="1.88" fill="none" transform="rotate(8 436 840.2)"/>
<path d="M442,829.5 C446,834 446,846 442.5,851.8" stroke-width="1.5" fill="none" />
<path d="M455.1,834.2 L610.3,771.3" stroke-width="1.25" fill="none" stroke-dasharray="40 1.5"/>
<path d="M329.3,914.8 L360,923.2" stroke-width="2.12" fill="none" />
<path d="M329.3,914.8 C322,919 319,931 324.2,940.8" stroke-width="2.0" fill="none" />
<path d="M334.3,915.7 C326.5,921 324,933 328,943.5" stroke-width="1.5" fill="none" />
<path d="M351.1,925.7 C344,931 340.5,942 341,950.9" stroke-width="1.25" fill="none" stroke-dasharray="7 2"/>
<path d="M324.2,940.8 L344.4,960" stroke-width="2.12" fill="none" />
<path d="M360,923.2 L467.5,956.5" stroke-width="2.12" fill="none" />
<path d="M508,970.8 L641.5,1011" stroke-width="2.12" fill="none" />
<path d="M344.4,960 L350.5,962.5 M357,965.5 L616.3,1085.4" stroke-width="2.12" fill="none" />
<line x1="320" y1="940" x2="320" y2="951" stroke-width="1.5"/>
<ellipse cx="628.6" cy="1048.6" rx="23" ry="38.6" stroke-width="2.75" fill="#fff" transform="rotate(15 628.6 1048.6)"/>
<ellipse cx="627" cy="1049.8" rx="20" ry="35.4" stroke-width="1.88" fill="none" transform="rotate(15 627 1049.8)"/>
<ellipse cx="625" cy="1051" rx="17" ry="31.8" stroke-width="1.62" fill="none" transform="rotate(15 625 1051)"/>
<path d="M634,1027 C637.5,1036 637,1052 632,1063 C630,1067 628,1070 626,1072" stroke-width="1.38" fill="none" stroke-dasharray="5 2.5"/>
<path d="M612,1075 C617,1078 624,1076 630,1070" stroke-width="3.0" fill="none" />
<path d="M605.5,1047 C605,1054 606,1060 608,1065" stroke-width="3.25" fill="none" />
<ellipse cx="617" cy="1043.5" rx="7.2" ry="12.6" stroke-width="2.5" fill="#fff" transform="rotate(15 617 1043.5)"/>
<path d="M619.8,1032.5 C615.5,1036 612.5,1047.5 615,1055" stroke-width="1.75" fill="none" />
<ellipse cx="615" cy="1046" rx="3.4" ry="6.6" stroke-width="1.5" fill="none" transform="rotate(15 615 1046)"/>
<path d="M467.7,956.5 L478,946.5 L486,943.5 C494,945.5 504,958 508,971 L497.5,978.5 L468,968 Z" stroke-width="2.25" fill="#fff" />
<path d="M468,957 L468.5,962.5 L498.5,972.5 L507.5,970.8" stroke-width="1.88" fill="none" />
<path d="M484,944.5 C491,948 499,959 503.5,969.5 L498.5,972.5 L497.5,978" stroke-width="2.0" fill="none" />
<path d="M468.5,962.5 L468,968" stroke-width="1.62" fill="none" />
<ellipse cx="484.5" cy="953.5" rx="3.2" ry="2.4" stroke-width="1.75" fill="#000" transform="rotate(20 484.5 953.5)"/>
<path d="M486,943.5 C494,945.5 504,958 508,971" stroke-width="3.5" fill="none" />
<line x1="399.6" y1="997.1" x2="484" y2="953.5" stroke-width="1.25"/>
<path d="M399.6,997.1 L437.4,1016.8 L427.4,1021.8" stroke-width="1.12" fill="none" stroke-dasharray="5 1.6"/>
<line x1="492.5" y1="949.5" x2="502" y2="945" stroke-width="1.38"/>
<text x="507.8" y="897.3" font-size="19" class="lb">29</text>
<line x1="518.8" y1="901.6" x2="518.8" y2="924.2" stroke-width="1.75"/>
<g transform="translate(518.8 935.2) rotate(-5)">
<path d="M-9.879999999999999,-2.6 L-4.680000000000001,-10.4 L4.680000000000001,-9.360000000000001 L9.879999999999999,-1.04 L9.360000000000001,5.720000000000001 L2.08,10.4 L-6.24,7.800000000000001 Z" stroke-width="2.5" fill="#fff" />
<path d="M-6.24,7.800000000000001 L-5.720000000000001,-1.04 L-9.879999999999999,-2.6 M-5.720000000000001,-1.04 L2.08,-0.52 L9.879999999999999,-1.04 M2.08,-0.52 L2.08,10.4" stroke-width="1.62" fill="none" />
<ellipse cx="-1.248" cy="-0.20800000000000002" rx="3.5360000000000005" ry="4.992" stroke-width="2.0" fill="#000" transform="rotate(12 -1.248 -0.20800000000000002)"/>
</g>
<line x1="506" y1="1036.5" x2="506" y2="1062.8" stroke-width="1.75"/>
<text x="498.2" y="1080.4" font-size="19" class="lb">12</text>
<ellipse cx="419.8" cy="1027.4" rx="8.0" ry="9.6" stroke-width="2.75" fill="#fff" transform="rotate(-20 419.8 1027.4)"/>
<ellipse cx="419.4" cy="1027.8" rx="4.2" ry="5.4" stroke-width="1.88" fill="#000" transform="rotate(-20 419.4 1027.8)"/>
<path d="M412.5,1032 C415,1037 422,1038 426.8,1032.8" stroke-width="1.5" fill="none" />
<line x1="419.8" y1="1037" x2="419.8" y2="1053.5" stroke-width="1.75"/>
<text x="410.8" y="1071" font-size="19" class="lb">21</text>
<path d="M369,1053.5 L386,1044.5" stroke-width="8.25" fill="none" stroke="#000"/>
<path d="M369,1053.5 L386,1044.5" stroke-width="4.5" fill="none" stroke="#fff"/>
<path d="M385.0,1048.5 L401.5,1039.7 L398.5,1034.3 L382.0,1043.1" stroke-width="1.62" fill="#fff" />
<path d="M386.1,1047.9 L384.6,1041.7" stroke-width="1.88" fill="none" />
<path d="M388.6,1046.6 L387.1,1040.4" stroke-width="1.88" fill="none" />
<path d="M391.2,1045.2 L389.7,1039.0" stroke-width="1.88" fill="none" />
<path d="M393.8,1043.8 L392.3,1037.6" stroke-width="1.88" fill="none" />
<path d="M396.4,1042.4 L394.9,1036.2" stroke-width="1.88" fill="none" />
<path d="M398.9,1041.1 L397.4,1034.9" stroke-width="1.88" fill="none" />
<g transform="translate(364.8 1055.8) rotate(152)">
<path d="M-5.5,-7.0 L1.65,-8.75 Q7.425000000000001,-8.75 7.425000000000001,0 Q7.425000000000001,8.75 1.65,8.75 L-5.5,7.0 Z" stroke-width="2.38" fill="#fff" />
<path d="M-5.5,-2.45 L0.825,-2.975 M-5.5,2.975 L0.825,3.325" stroke-width="1.62" fill="none" />
<ellipse cx="2.75" cy="0" rx="3.96" ry="8.22" stroke-width="1.88" fill="none"/>
</g>
<line x1="401" y1="1036.5" x2="411" y2="1031.5" stroke-width="1.25"/>
<line x1="380" y1="1054.6" x2="380" y2="1080" stroke-width="1.75"/>
<text x="369.5" y="1098" font-size="19" class="lb">23</text>
<path d="M311.6,963 L311.6,978 C314,983.5 324,983.5 326.4,978 L326.4,963" stroke-width="2.25" fill="#fff" />
<ellipse cx="319" cy="962.8" rx="7.2" ry="4.4" stroke-width="3.25" fill="#000"/>
<ellipse cx="318.6" cy="963.6" rx="3.6" ry="1.6" stroke-width="1.25" fill="#fff"/>
<line x1="327" y1="971.6" x2="333" y2="971.6" stroke-width="1.88"/>
<text x="333.8" y="979.2" font-size="19" class="lb">25</text>
<ellipse cx="318.6" cy="993.8" rx="8.2" ry="7.0" stroke-width="2.0" fill="#000"/>
<ellipse cx="316.6" cy="992.2" rx="4.2" ry="3.0" fill="#fff" stroke="none"/>
<ellipse cx="318.2" cy="993.4" rx="3.2" ry="2.3" fill="#000" stroke="none"/>
<ellipse cx="317.6" cy="992.8" rx="0.9" ry="0.8" fill="#fff" stroke="none"/>
<line x1="327.1" y1="993.6" x2="338.1" y2="993.6" stroke-width="1.88"/>
<text x="339.6" y="1001.8" font-size="19" class="lb">5</text>
<path d="M315.3,1008.5 L315.3,1031.0 L321.9,1031.0 L321.9,1008.5" stroke-width="1.62" fill="#fff" />
<path d="M315.3,1010.2 L321.9,1011.8" stroke-width="1.88" fill="none" />
<path d="M315.3,1013.7 L321.9,1015.3" stroke-width="1.88" fill="none" />
<path d="M315.3,1017.2 L321.9,1018.8" stroke-width="1.88" fill="none" />
<path d="M315.3,1020.7 L321.9,1022.3" stroke-width="1.88" fill="none" />
<path d="M315.3,1024.2 L321.9,1025.8" stroke-width="1.88" fill="none" />
<path d="M315.3,1027.7 L321.9,1029.3" stroke-width="1.88" fill="none" />
<path d="M315.4,1009 L318.6,1005.5 L321.8,1009" stroke-width="1.75" fill="none" />
<path d="M309.6,1032.5 L313,1029 L323.5,1029 L326.6,1032.5 L326.6,1039 L323,1042.6 L313.5,1042.6 L309.6,1039 Z" stroke-width="2.38" fill="#fff" />
<path d="M313.5,1033 L313.5,1042 M322.5,1033 L322.5,1042 M309.6,1032.8 L326.6,1032.8" stroke-width="1.62" fill="none" />
<line x1="322.5" y1="1023.4" x2="337.6" y2="1023.4" stroke-width="1.88"/>
<text x="339.4" y="1029.3" font-size="19" class="lb">4</text>
<path d="M168.5,894.3 C161,896 155.5,902 155,910 C155,914 157,917 159.5,919 L224,970 L239,991.8 L250.3,991 C252,986 250,981 246,978 L243,972 L252,966.5 L251.5,955.5 L236,943.5 Z" stroke-width="2.12" fill="#fff" />
<path d="M236,950.5 C229,954.5 224.5,962.5 224.7,971.5" stroke-width="1.62" fill="none" />
<path d="M251.7,955 C244.5,960.5 238.5,972 236.5,985 L239,991.5" stroke-width="1.88" fill="none" />
<path d="M246.5,960.5 C241.5,966.5 239,975 238.5,983" stroke-width="1.5" fill="none" />
<path d="M243,972 L250,975.5 L256.5,972 L254.5,966 L252,966.5" stroke-width="1.88" fill="#fff" />
<path d="M175,899 L183,894.5 L192,894 L199.5,899.5 L199,905.5 L192,908 L186.5,906 Z" stroke-width="2.5" fill="#000" />
<ellipse cx="186.3" cy="898.8" rx="3.4" ry="2.0" stroke-width="1.0" fill="#fff" transform="rotate(25 186.3 898.8)"/>
<ellipse cx="193.6" cy="903.2" rx="3.2" ry="1.9" stroke-width="1.0" fill="#fff" transform="rotate(25 193.6 903.2)"/>
<path d="M234,944 L245.5,938 L253.5,938.5 L261,946 L257,950 L247,950.5 L240,949.5 Z" stroke-width="2.5" fill="#000" />
<ellipse cx="244.5" cy="946" rx="3.2" ry="1.7" stroke-width="1.0" fill="#fff" transform="rotate(20 244.5 946)"/>
<ellipse cx="252.5" cy="946.3" rx="3.0" ry="1.7" stroke-width="1.0" fill="#fff" transform="rotate(20 252.5 946.3)"/>
<line x1="197.4" y1="950.5" x2="197.4" y2="970" stroke-width="1.75"/>
<text x="187.8" y="986.8" font-size="19" class="lb">11</text>
<text x="214" y="1013.6" font-size="19" class="lb">15</text>
<line x1="236" y1="1007.5" x2="242" y2="1007.5" stroke-width="1.62"/>
<ellipse cx="250.2" cy="1007.5" rx="8.8" ry="6.6" stroke-width="2.25" fill="#000"/>
<ellipse cx="249" cy="1005.2" rx="5.6" ry="3.2" fill="#fff" stroke="none"/>
<ellipse cx="250.6" cy="1006.6" rx="5.6" ry="3.2" fill="#000" stroke="none"/>
<text x="214.8" y="1042.2" font-size="19" class="lb">14</text>
<line x1="235.2" y1="1037.2" x2="246.5" y2="1037.2" stroke-width="1.62"/>
<path d="M247.2,1022.0 L247.2,1042.5 L254.8,1042.5 L254.8,1022.0" stroke-width="1.62" fill="#fff" />
<path d="M247.2,1023.4 L254.8,1025.0" stroke-width="1.88" fill="none" />
<path d="M247.2,1026.6 L254.8,1028.2" stroke-width="1.88" fill="none" />
<path d="M247.2,1029.8 L254.8,1031.4" stroke-width="1.88" fill="none" />
<path d="M247.2,1033.1 L254.8,1034.7" stroke-width="1.88" fill="none" />
<path d="M247.2,1036.3 L254.8,1037.9" stroke-width="1.88" fill="none" />
<path d="M247.2,1039.5 L254.8,1041.1" stroke-width="1.88" fill="none" />
<path d="M247.2,1022.5 L251,1018.6 L254.8,1022.5" stroke-width="1.75" fill="none" />
<ellipse cx="250.8" cy="1045.5" rx="8.6" ry="3.8" stroke-width="2.0" fill="#fff"/>
<path d="M242.3,1046 L242.3,1051.5 C245,1056.5 257,1056.5 259.4,1051.5 L259.4,1046" stroke-width="2.0" fill="#fff" />
<ellipse cx="250.8" cy="1045.5" rx="8.6" ry="3.8" stroke-width="2.0" fill="#fff"/>
<path d="M5,595.5 L4.6,598.5" stroke-width="1.5" fill="none" />
</g>
<g style="opacity:0.97" transform="rotate(0.02 476 1168)">
<text x="476" y="1165.3" font-size="7" text-anchor="middle" class="ft" textLength="285" lengthAdjust="spacingAndGlyphs">Kawasaki materials within all copyright 1966 - 2017, Kawasaki Motor Corp. U.S.A.  All rights reserved.</text>
<text x="476" y="1173.3" font-size="7" text-anchor="middle" class="ft" textLength="163" lengthAdjust="spacingAndGlyphs">Page design (c) 2004 - 2017 by ARI Network Services, Inc.</text>
</g>
</svg>
</body></html>
